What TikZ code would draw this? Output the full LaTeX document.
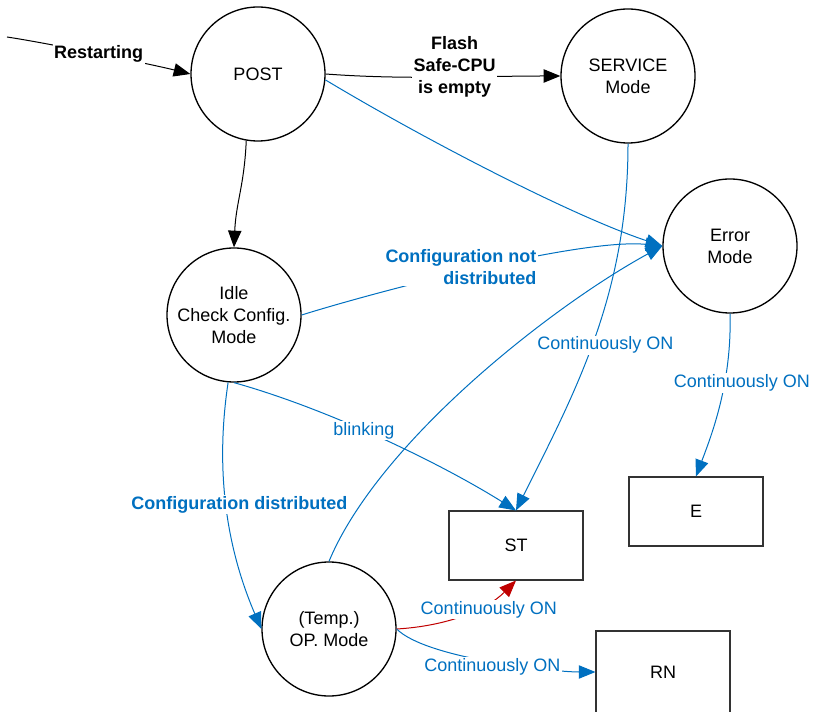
\documentclass[tikz,border=0pt]{standalone}
\usepackage{fontspec}
\setmainfont{Liberation Sans}
\usetikzlibrary{arrows.meta}
\definecolor{ledblue}{RGB}{0,112,192}
\definecolor{ledred}{RGB}{192,0,0}

\begin{document}
\begin{tikzpicture}[x=0.75pt,y=-0.75pt,
		font=\fontsize{13.5}{16.5}\selectfont,
		bold/.style={font=\fontsize{13.5}{16.5}\selectfont\bfseries},
		state/.style={draw,circle,line width=1pt,minimum size=100.5pt,inner sep=0pt,align=center},
		led/.style={draw=black!80,line width=0.8pt,minimum width=100.5pt,minimum height=51.75pt},
		arr/.style={line width=0.75pt,-{Triangle[length=12.5pt,width=10pt]}},
		bluearr/.style={arr,draw=ledblue},
		redarr/.style={arr,draw=ledred},
		lbl/.style={fill=white,inner sep=1pt,align=center},
		blbl/.style={lbl,text=ledblue}]
			\useasboundingbox (0,0) rectangle (817,712);
			\node[state] (POST) at (258,74) {POST};
			\node[state] (SERV) at (628,76) {SERVICE\\Mode};
			\node[state] (ERR) at (730,246) {Error\\Mode};
			\node[state] (IDLE) at (234,315) {Idle\\Check Config.\\Mode};
			\node[state] (OP) at (329,629) {(Temp.)\\OP. Mode};
			\node[led] (ST) at (516,545.5) {ST};
			\node[led] (E) at (696,511.5) {E};
			\node[led,minimum height=61.5pt] (RN) at (663,672) {RN};
			\coordinate (start) at (7,37);
			% black transitions
			\draw[arr] (start) .. controls +(40,6) and +(-40,-10) .. node[lbl,bold] {Restarting} (POST.west);
			\draw[arr] (POST.east) .. controls +(80,6) and +(-80,0) .. node[lbl,bold,pos=0.55,yshift=8pt] {Flash\\Safe-CPU\\is empty} (SERV.west);
			\draw[arr] (POST.-100) .. controls +(-2,45) and +(2,-45) .. (IDLE.north);
			% blue transitions
			\draw[bluearr] (POST.-5) .. controls +(100,60) and +(-90,-30) .. (ERR.west);
			\draw[bluearr] (IDLE.east) .. controls +(80,-25) and +(-80,-8) .. node[blbl,bold,align=right,pos=0.45,yshift=4pt] {Configuration not\\distributed} (ERR.west);
			\draw[bluearr] (OP.north) .. controls +(50,-120) and +(-110,60) .. (ERR.west);
			\draw[bluearr] (SERV.south) .. controls +(0,150) and +(60,-120) .. node[blbl,pos=0.52,xshift=10pt] {Continuously ON} (ST.north);
			\draw[bluearr] (ERR.south) .. controls +(2,70) and +(15,-40) .. node[blbl,pos=0.36,xshift=13pt] {Continuously ON} (E.north);
			\draw[bluearr] (IDLE.south) .. controls +(90,25) and +(-80,-50) .. node[blbl,pos=0.45] {blinking} (ST.north);
			\draw[bluearr] (IDLE.-95) .. controls +(-15,100) and +(-30,-70) .. node[blbl,bold,pos=0.45,xshift=10pt] {Configuration distributed} (OP.west);
			\draw[redarr] (OP.east) .. controls +(50,-3) and +(-30,30) .. node[blbl,pos=0.6,xshift=10pt] {Continuously ON} (ST.south);
			\draw[bluearr] (OP.east) .. controls +(30,30) and +(-40,0) .. node[blbl,pos=0.5,yshift=-4pt] {Continuously ON} (RN.west);
		\end{tikzpicture}
\end{document}
